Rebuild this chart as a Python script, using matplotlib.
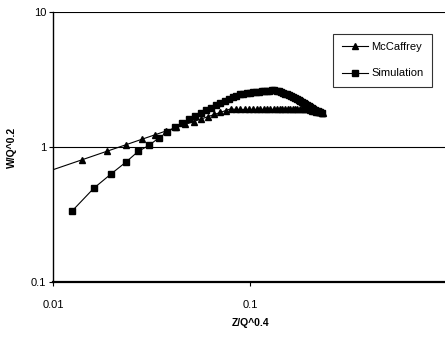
import matplotlib
matplotlib.use('Agg')
import matplotlib.pyplot as plt
from matplotlib.ticker import FixedLocator, FixedFormatter, NullLocator

plt.rcParams['font.family'] = ['Liberation Sans', 'DejaVu Sans']

# McCaffrey correlation points
mccaffrey_x = [0.0094, 0.0141, 0.0188, 0.0235, 0.0282, 0.0329, 0.0376, 0.0423, 0.0470,
               0.0517, 0.0564, 0.0611, 0.0658, 0.0705, 0.0752, 0.0799, 0.0846, 0.0893,
               0.0940, 0.0987, 0.1034, 0.1081, 0.1128, 0.1175, 0.1222, 0.1269, 0.1316,
               0.1363, 0.1410, 0.1457, 0.1504, 0.1551, 0.1598, 0.1645, 0.1692, 0.1739,
               0.1786, 0.1833, 0.1880, 0.1927, 0.1974, 0.2021, 0.2068, 0.2115, 0.2162,
               0.2209, 0.2256, 0.2303, 0.2350]
mccaffrey_y = [0.659, 0.807, 0.932, 1.042, 1.142, 1.233, 1.319, 1.399, 1.474,
               1.546, 1.615, 1.681, 1.744, 1.806, 1.865, 1.922, 1.900, 1.900,
               1.900, 1.900, 1.900, 1.900, 1.900, 1.900, 1.900, 1.900, 1.900,
               1.900, 1.900, 1.900, 1.900, 1.900, 1.900, 1.900, 1.900, 1.900,
               1.900, 1.900, 1.900, 1.900, 1.900, 1.874, 1.860, 1.846, 1.833,
               1.820, 1.807, 1.794, 1.782]

# simulation results
sim_x = [0.01250, 0.01614, 0.01978, 0.02342, 0.02706, 0.03070, 0.03434, 0.03798,
         0.04162, 0.04526, 0.04890, 0.05254, 0.05618, 0.05982, 0.06346, 0.06710,
         0.07074, 0.07438, 0.07802, 0.08166, 0.08530, 0.08894, 0.09258, 0.09622,
         0.09986, 0.10350, 0.10714, 0.11078, 0.11442, 0.11806, 0.12170, 0.12534,
         0.12898, 0.13262, 0.13626, 0.13990, 0.14354, 0.14718, 0.15082, 0.15446,
         0.15810, 0.16174, 0.16538, 0.16902, 0.17266, 0.17630, 0.17994, 0.18358,
         0.18722, 0.19086, 0.19450, 0.19814, 0.20178, 0.20542, 0.20906, 0.21270,
         0.21634, 0.21998, 0.22362, 0.22726, 0.23090]
sim_y = [0.336, 0.497, 0.635, 0.773, 0.929, 1.030, 1.166, 1.288,
         1.406, 1.504, 1.602, 1.698, 1.788, 1.877, 1.963, 2.046,
         2.127, 2.206, 2.280, 2.334, 2.386, 2.460, 2.489, 2.520,
         2.537, 2.553, 2.569, 2.580, 2.598, 2.606, 2.616, 2.624,
         2.630, 2.640, 2.620, 2.587, 2.555, 2.524, 2.494, 2.466,
         2.438, 2.399, 2.353, 2.312, 2.269, 2.228, 2.188, 2.149,
         2.113, 2.077, 2.042, 2.009, 1.977, 1.946, 1.917, 1.888,
         1.866, 1.846, 1.827, 1.809, 1.791]

x_ticks = [0.01, 0.1, 1]
x_labels = ['0.01', '0.1', '1']
y_ticks = [0.1, 1, 10]
y_labels = ['0.1', '1', '10']

fig = plt.figure(figsize=(4.45, 3.37), dpi=100)
ax = fig.add_axes([0.119, 0.163, 0.886, 0.801])

ax.plot(mccaffrey_x, mccaffrey_y, color='black', lw=0.8, marker='^', ms=5,
        label='McCaffrey')
ax.plot(sim_x, sim_y, color='black', lw=0.8, marker='s', ms=5,
        label='Simulation')

ax.set_xscale('log')
ax.set_yscale('log')
ax.set_xlim(0.01, 1)
ax.set_ylim(0.1, 10)

ax.xaxis.set_major_locator(FixedLocator(x_ticks))
ax.xaxis.set_major_formatter(FixedFormatter(x_labels))
ax.yaxis.set_major_locator(FixedLocator(y_ticks))
ax.yaxis.set_major_formatter(FixedFormatter(y_labels))
ax.xaxis.set_minor_locator(NullLocator())
ax.yaxis.set_minor_locator(NullLocator())
ax.tick_params(axis='both', direction='out', length=3, width=0.8, labelsize=8,
               colors='black')
ax.tick_params(axis='x', pad=10)
ax.tick_params(axis='y', pad=2)

ax.grid(True, axis='y', which='major', color='black', lw=0.8)
ax.spines['top'].set_visible(False)
ax.spines['right'].set_visible(False)
ax.spines['left'].set_linewidth(1.0)
ax.spines['bottom'].set_linewidth(1.6)

ax.set_xlabel('Z/Q^0.4', fontsize=7.5, fontweight='bold', labelpad=6)
ax.set_ylabel('W/Q^0.2', fontsize=7.5, fontweight='bold', labelpad=10)

leg = ax.legend(loc='upper left', bbox_to_anchor=(0.711, 0.919), borderaxespad=0,
                fontsize=8, frameon=True, fancybox=False, edgecolor='black',
                handlelength=2.4, borderpad=0.75, labelspacing=1.45,
                handletextpad=0.3)
leg.get_frame().set_linewidth(0.8)

fig.savefig('out.png', dpi=100)
